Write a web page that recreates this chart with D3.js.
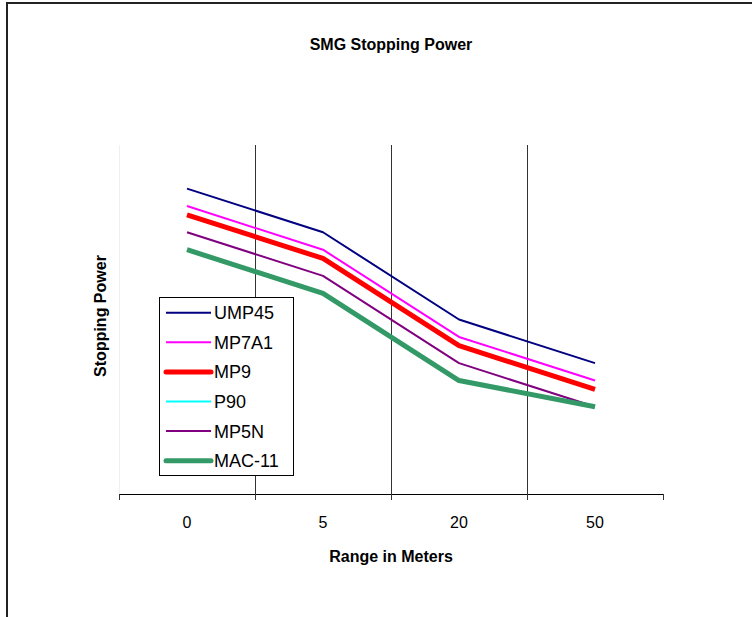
<!DOCTYPE html>
<html>
<head>
<meta charset="utf-8">
<script src="https://cdn.jsdelivr.net/npm/d3@7"></script>
<style>
  html, body { margin: 0; padding: 0; background: #fff; }
  svg { display: block; }
  text { font-family: Arial, "Liberation Sans", sans-serif; }
</style>
</head>
<body>
<svg id="chart" width="752" height="617"></svg>
<script>
const categories = ["0", "5", "20", "50"];
const seriesNames = ["UMP45", "MP7A1", "MP9", "P90", "MP5N", "MAC-11"];
const ump45 = [35, 30, 20, 15];
const mp7a1 = [33, 28, 18, 13];
const mp9 = [32, 27, 17, 12];
const p90 = [null, null, null, null];
const mp5n = [30, 25, 15, 10];
const mac11 = [28, 23, 13, 10];
const seriesColors = ["#000080", "#FF00FF", "#FF0000", "#00FFFF", "#800080", "#339966"];
const seriesWidths = [2, 2, 5, 2, 2, 5];

const seriesValues = [ump45, mp7a1, mp9, p90, mp5n, mac11];

const svg = d3.select("#chart");

// outer frame
svg.append("path")
  .attr("d", "M7,620 L7,3 L755,3")
  .attr("fill", "none").attr("stroke", "#222").attr("stroke-width", 2);

const plot = { left: 119, right: 663, top: 145, bottom: 494 };

const x = d3.scaleBand().domain(categories).range([plot.left, plot.right]).padding(0);
const y = d3.scaleLinear().domain([0, 40]).range([plot.bottom, plot.top]);

// faint plot-area left edge
svg.append("line")
  .attr("x1", plot.left + 0.5).attr("x2", plot.left + 0.5)
  .attr("y1", plot.top).attr("y2", plot.bottom)
  .attr("stroke", "#f0f0f0").attr("stroke-width", 1);

// vertical gridlines at category boundaries
const boundaries = categories.slice(1).map(c => x(c));
svg.selectAll("line.grid").data(boundaries).enter().append("line")
  .attr("class", "grid")
  .attr("x1", d => Math.round(d) + 0.5).attr("x2", d => Math.round(d) + 0.5)
  .attr("y1", plot.top).attr("y2", plot.bottom)
  .attr("stroke", "#333").attr("stroke-width", 1);

// x axis
const xAxis = d3.axisBottom(x).tickSize(0).tickPadding(0);
const axisG = svg.append("g").attr("transform", `translate(0,${plot.bottom})`).call(xAxis);
axisG.select(".domain").remove();
axisG.selectAll("text")
  .attr("y", 34).attr("dy", null)
  .attr("font-size", 16).attr("fill", "#000")
  .attr("font-family", "Arial, 'Liberation Sans', sans-serif");

svg.append("line")
  .attr("x1", plot.left).attr("x2", plot.right)
  .attr("y1", plot.bottom + 0.5).attr("y2", plot.bottom + 0.5)
  .attr("stroke", "#000").attr("stroke-width", 1);

const tickPos = [plot.left, ...boundaries, plot.right];
svg.selectAll("line.xtick").data(tickPos).enter().append("line")
  .attr("class", "xtick")
  .attr("x1", d => Math.round(d) + 0.5).attr("x2", d => Math.round(d) + 0.5)
  .attr("y1", plot.bottom).attr("y2", plot.bottom + 6)
  .attr("stroke", "#333").attr("stroke-width", 1);

// lines
const line = d3.line()
  .defined(d => d.v !== null)
  .x(d => x(d.c) + x.bandwidth() / 2)
  .y(d => y(d.v));

seriesNames.forEach((name, i) => {
  const data = categories.map((c, j) => ({ c, v: seriesValues[i][j] }));
  if (data.every(d => d.v === null)) return;
  svg.append("path")
    .datum(data)
    .attr("d", line)
    .attr("fill", "none")
    .attr("stroke", seriesColors[i])
    .attr("stroke-width", seriesWidths[i])
    .attr("stroke-linejoin", "round");
});

// title and axis titles
svg.append("text").attr("x", 391).attr("y", 50)
  .attr("text-anchor", "middle").attr("font-size", 16).attr("font-weight", "bold")
  .text("SMG Stopping Power");

svg.append("text").attr("x", 391).attr("y", 562)
  .attr("text-anchor", "middle").attr("font-size", 16).attr("font-weight", "bold")
  .text("Range in Meters");

svg.append("text")
  .attr("transform", "translate(106,316) rotate(-90)")
  .attr("text-anchor", "middle").attr("font-size", 16).attr("font-weight", "bold")
  .text("Stopping Power");

// legend
const lg = svg.append("g");
lg.append("rect")
  .attr("x", 159.5).attr("y", 297.5).attr("width", 134).attr("height", 178)
  .attr("fill", "#fff").attr("stroke", "#000").attr("stroke-width", 1);

seriesNames.forEach((name, i) => {
  const cy = 312.7 + i * 29.6;
  lg.append("line")
    .attr("x1", 166).attr("x2", 211)
    .attr("y1", cy).attr("y2", cy)
    .attr("stroke", seriesColors[i]).attr("stroke-width", seriesWidths[i])
    .attr("stroke-linecap", seriesWidths[i] > 2 ? "round" : "butt");
  lg.append("text")
    .attr("x", 214).attr("y", cy + 6.5)
    .attr("font-size", 18).attr("fill", "#000")
    .text(name);
});
</script>
</body>
</html>
